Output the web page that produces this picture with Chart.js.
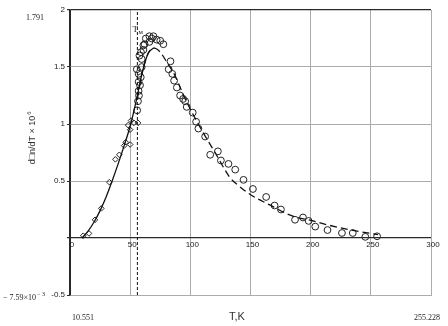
<!DOCTYPE html>
<html>
<head>
<meta charset="utf-8">
<script src="https://cdn.jsdelivr.net/npm/chart.js@4"></script>
<style>
  html, body { margin: 0; padding: 0; background: #fff; }
  #wrap { width: 448px; height: 326px; }
</style>
</head>
<body>
<div id="wrap"><canvas id="myChart" width="448" height="326"></canvas></div>
<script>
// measured points, low temperature side (diamonds)
var diamondT = [11, 15.8, 20.8, 26, 32.7, 37.7, 41, 45, 46.3, 50, 48.3, 50.7, 53.2, 50, 56.6];
var diamondY = [0.02, 0.04, 0.16, 0.26, 0.49, 0.69, 0.73, 0.81, 0.84, 0.82, 0.99, 1.03, 1.01, 0.95, 1.01];

// measured points, peak and high temperature side (circles)
var circleT = [55.8, 56.5, 57.3, 57, 58.2, 57, 58.8, 57, 55.5, 59.6, 57.7, 59.6, 61, 59, 61, 62, 63,
    66, 68, 66, 69.3, 72, 75, 77.6, 82, 83.5, 85, 86.5, 88.8, 91.5, 94, 95.7, 97, 102, 104.8,
    106.7, 112.3, 116.5, 122.9, 125.4, 131.7, 137.3, 144.2, 152, 163, 170, 175.3, 187, 193.6,
    198.3, 203.8, 214, 226, 235, 245.4, 255.2];
var circleY = [1.12, 1.2, 1.25, 1.29, 1.34, 1.37, 1.41, 1.44, 1.48, 1.5, 1.6, 1.57, 1.65, 1.63, 1.69, 1.7, 1.75,
    1.72, 1.75, 1.77, 1.77, 1.74, 1.73, 1.7, 1.48, 1.55, 1.44, 1.38, 1.32, 1.25, 1.22, 1.2, 1.15, 1.1, 1.02,
    0.96, 0.89, 0.73, 0.76, 0.68, 0.65, 0.6, 0.51, 0.43, 0.36, 0.285, 0.25, 0.16, 0.18,
    0.15, 0.1, 0.07, 0.044, 0.044, 0.01, 0.015];

// fitted curves
var solidT = [10, 15, 20, 25, 30, 35, 40, 45, 50, 55, 60, 65, 70];
var solidY = [0, 0.06, 0.14, 0.24, 0.36, 0.5, 0.65, 0.81, 0.98, 1.2, 1.45, 1.62, 1.67];
var dashT = [56, 60, 65, 70, 75, 80, 87, 94, 100, 112, 120, 133, 140, 150, 166, 183, 202, 216, 235, 256];
var dashY = [1.22, 1.45, 1.62, 1.665, 1.63, 1.55, 1.43, 1.26, 1.13, 0.9, 0.76, 0.53, 0.46, 0.38, 0.29, 0.2, 0.15, 0.11, 0.067, 0.03];

// T_m marker
var tM = 56;
var yRange = [-0.5, 2];

function pts(xs, ys) {
    return xs.map(function (x, i) { return { x: x, y: ys[i] }; });
}

var dark = '#2a2a2a';
var gray = '#ababab';
var tickFont = { family: 'Liberation Sans', size: 8 };

var extraText = {
    id: 'extraText',
    afterDraw: function (chart) {
        var c = chart.ctx;
        var xs = chart.scales.x, ys = chart.scales.y;
        c.save();
        c.fillStyle = '#222';
        // x tick labels under the zero line
        c.font = '8px "Liberation Sans"';
        c.textAlign = 'center';
        c.textBaseline = 'top';
        [0, 50, 100, 150, 200, 250, 300].forEach(function (v) {
            c.fillText(String(v), xs.getPixelForValue(v) + 2, ys.getPixelForValue(0) + 3);
        });
        // T_m label
        c.font = '9px "Liberation Serif"';
        c.textAlign = 'left';
        c.textBaseline = 'middle';
        var px = xs.getPixelForValue(tM) - 5, py = ys.getPixelForValue(1.83);
        c.fillText('T', px, py);
        c.font = '7px "Liberation Serif"';
        c.fillText('м', px + 6, py + 3);
        // range labels
        c.font = '8px "Liberation Serif"';
        c.textAlign = 'center';
        c.fillText('1.791', 35, 18);
        c.fillText('10.551', 83, 318);
        c.fillText('255.228', 427, 318);
        c.textAlign = 'right';
        c.fillText('\u2212 7.59\u00d710', 36, 298);
        c.font = '6px "Liberation Serif"';
        c.fillText('\u2212 3', 45, 294);
        // axis titles
        c.font = '11px "Liberation Sans"';
        c.textAlign = 'center';
        c.fillStyle = '#333';
        c.fillText('T,K', 237, 317);
        c.translate(33, 138);
        c.rotate(-Math.PI / 2);
        c.font = '9px "Liberation Sans"';
        c.textAlign = 'left';
        var t = 'd\u25a1n/dT \u00d7 10';
        var w = c.measureText(t).width;
        c.fillText(t, -w / 2 - 2, 0);
        c.font = '6px "Liberation Sans"';
        c.fillText('6', w / 2 - 1, -4);
        c.restore();
    }
};

var ctx = document.getElementById('myChart').getContext('2d');
var myChart = new Chart(ctx, {
    type: 'scatter',
    data: {
        datasets: [
        {
            label: 'T_m',
            data: [{ x: tM, y: yRange[0] }, { x: tM, y: yRange[1] }],
            showLine: true,
            borderColor: '#111',
            borderWidth: 1,
            borderDash: [3, 2],
            pointRadius: 0
        },
        {
            label: 'fit 1',
            data: pts(solidT, solidY),
            showLine: true,
            borderColor: '#111',
            borderWidth: 1.3,
            cubicInterpolationMode: 'monotone',
            pointRadius: 0
        },
        {
            label: 'fit 2',
            data: pts(dashT, dashY),
            showLine: true,
            borderColor: '#111',
            borderWidth: 1.3,
            borderDash: [7, 4],
            cubicInterpolationMode: 'monotone',
            pointRadius: 0
        },
        {
            label: 'low T',
            data: pts(diamondT, diamondY),
            pointStyle: 'rectRot',
            pointRadius: 2.8,
            borderColor: '#222',
            borderWidth: 1,
            backgroundColor: 'rgba(255,255,255,0)'
        },
        {
            label: 'high T',
            data: pts(circleT, circleY),
            pointStyle: 'circle',
            pointRadius: 3.4,
            borderColor: '#222',
            borderWidth: 1,
            backgroundColor: 'rgba(255,255,255,0)'
        }
        ]
    },
    options: {
        responsive: false,
        animation: false,
        layout: { padding: { top: 10, right: 17, left: 0, bottom: 0 } },
        plugins: {
            legend: { display: false },
            tooltip: { enabled: false }
        },
        scales: {
            x: {
                type: 'linear',
                min: 0,
                max: 300,
                afterFit: function (s) { s.height = 31; },
                ticks: { display: false, stepSize: 50 },
                grid: {
                    color: function (c) { return c.tick && c.tick.value === 0 ? dark : gray; },
                    drawTicks: false
                },
                border: { display: true, color: gray }
            },
            y: {
                min: yRange[0],
                max: yRange[1],
                afterFit: function (s) { s.width = 70; },
                ticks: {
                    stepSize: 0.5,
                    font: tickFont,
                    color: '#222',
                    padding: 2,
                    callback: function (v) { return v === 0 ? '' : String(v); }
                },
                grid: {
                    color: function (c) {
                        var v = c.tick && c.tick.value;
                        return (v === 0 || v === 2) ? dark : gray;
                    },
                    lineWidth: function (c) {
                        var v = c.tick && c.tick.value;
                        return (v === 0 || v === 2) ? 1.3 : 1;
                    },
                    tickLength: 3,
                    tickColor: dark
                },
                border: { display: true, color: dark, width: 1.3 }
            }
        }
    },
    plugins: [extraText]
});
</script>
</body>
</html>
